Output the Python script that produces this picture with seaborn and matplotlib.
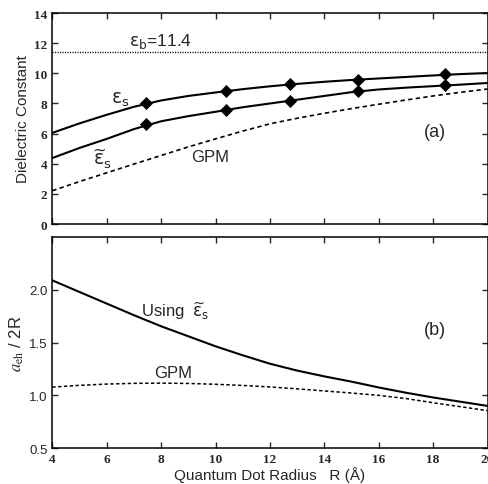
import numpy as np
import pandas as pd
import seaborn as sb
import matplotlib.pyplot as plt

# radius grid (Angstrom) used for the read-off curves
radius = [4, 5, 6, 7, 8, 9, 10, 11, 12, 13, 14, 15, 16, 17, 18, 19, 20]

# panel (a): dielectric constants
eps_s = [6.05, 6.68, 7.25, 7.78, 8.2, 8.5, 8.73, 8.95, 9.14, 9.3, 9.44, 9.56, 9.66, 9.76, 9.86, 9.95, 10.02]
eps_s_tilde = [4.38, 5.05, 5.65, 6.3, 6.82, 7.16, 7.45, 7.75, 8.0, 8.25, 8.5, 8.75, 8.93, 9.05, 9.15, 9.25, 9.36]
gpm_a = [2.21, 2.82, 3.4, 3.98, 4.55, 5.12, 5.65, 6.17, 6.65, 7.02, 7.35, 7.66, 7.95, 8.23, 8.5, 8.74, 8.96]
eps_b = 11.4

marker_r = [7.44, 10.37, 12.74, 15.23, 18.44]
marker_eps_s = [8.01, 8.80, 9.27, 9.58, 9.93]
marker_eps_s_tilde = [6.61, 7.56, 8.18, 8.80, 9.20]

# panel (b): a_eh / 2R
using_tilde = [2.09, 1.98, 1.87, 1.76, 1.655, 1.56, 1.465, 1.38, 1.30, 1.235, 1.18, 1.13, 1.075, 1.025, 0.98, 0.94, 0.90]
gpm_b = [1.078, 1.095, 1.107, 1.114, 1.116, 1.113, 1.105, 1.094, 1.08, 1.062, 1.042, 1.022, 1.0, 0.97, 0.93, 0.893, 0.855]

sb.set_style("ticks")
plt.rcParams["font.family"] = ["Liberation Sans", "DejaVu Sans"]
plt.rcParams["axes.linewidth"] = 1.1
# upright greek for the epsilon labels
plt.rcParams["mathtext.rm"] = "DejaVu Sans"
plt.rcParams["mathtext.it"] = "DejaVu Sans"
plt.rcParams["mathtext.bf"] = "DejaVu Sans:bold"

df_a = pd.DataFrame({"R": radius, "eps_s": eps_s, "eps_t": eps_s_tilde, "gpm": gpm_a})
df_m = pd.DataFrame({"R": marker_r, "eps_s": marker_eps_s, "eps_t": marker_eps_s_tilde})
df_b = pd.DataFrame({"R": radius, "using": using_tilde, "gpm": gpm_b})

fig = plt.figure(figsize=(4.89, 4.85), dpi=100)
ax1 = fig.add_axes([0.107, 0.536, 0.890, 0.435])
ax2 = fig.add_axes([0.107, 0.074, 0.890, 0.435])

eps_tilde_txt = r"\widetilde{\varepsilon}_\mathrm{s}"

# ---------------------------------------------------------------------------------------------
sb.lineplot(data=df_a, x="R", y="eps_s", ax=ax1, color="black", lw=1.5)
sb.lineplot(data=df_a, x="R", y="eps_t", ax=ax1, color="black", lw=1.5)
sb.lineplot(data=df_a, x="R", y="gpm", ax=ax1, color="black", lw=1.2,
            linestyle=(0, (2.6, 2.0)))
sb.scatterplot(data=df_m, x="R", y="eps_s", ax=ax1, marker="D", s=38, color="black",
               edgecolor="black", zorder=5)
sb.scatterplot(data=df_m, x="R", y="eps_t", ax=ax1, marker="D", s=38, color="black",
               edgecolor="black", zorder=5)
ax1.axhline(eps_b, color="black", lw=1.0, linestyle=(0, (0.8, 1.0)))

ax1.set_xlim(4, 20)
ax1.set_ylim(0, 14)
ax1.set_yticks([0, 2, 4, 6, 8, 10, 12, 14])
ax1.set_xticks(range(4, 21, 2))
ax1.set_xticklabels([])
ax1.set_xlabel("")
ax1.set_ylabel("Dielectric Constant", fontsize=11, labelpad=3)

ax1.text(7.97, 12.2, r"$\varepsilon_\mathrm{b}$=11.4", fontsize=12.5, ha="center", va="center",
         math_fontfamily="custom")
ax1.text(6.49, 8.3, r"$\varepsilon_\mathrm{s}$", fontsize=13.5, ha="center", va="center",
         math_fontfamily="custom")
ax1.text(5.82, 4.35, "$" + eps_tilde_txt + "$", fontsize=13.5, ha="center", va="center",
         math_fontfamily="custom")
ax1.text(9.8, 4.45, "GPM", fontsize=12, ha="center", va="center")
ax1.text(18.07, 6.17, "(a)", fontsize=13, ha="center", va="center")

# ---------------------------------------------------------------------------------------------
sb.lineplot(data=df_b, x="R", y="using", ax=ax2, color="black", lw=1.5)
sb.lineplot(data=df_b, x="R", y="gpm", ax=ax2, color="black", lw=1.1,
            linestyle=(0, (2.2, 1.6)))

ax2.set_xlim(4, 20)
ax2.set_ylim(0.5, 2.5)
ax2.set_yticks([0.5, 1.0, 1.5, 2.0])
ax2.set_yticklabels(["0.5", "1.0", "1.5", "2.0"])
ax2.set_xticks(range(4, 21, 2))
ax2.set_xlabel("Quantum Dot Radius   R (\u00c5)", fontsize=11, labelpad=1)
ax2.set_ylabel(r"$a_\mathrm{eh}$ / 2R", fontsize=12, labelpad=2, math_fontfamily="stix")

ax2.text(8.5, 1.81, "Using  $" + eps_tilde_txt + "$", fontsize=12, ha="center",
         va="center", math_fontfamily="custom")
ax2.text(8.45, 1.22, "GPM", fontsize=12, ha="center", va="center")
ax2.text(18.07, 1.62, "(b)", fontsize=13, ha="center", va="center")

for ax in (ax1, ax2):
    ax.tick_params(direction="in", top=True, right=True, length=4.5, width=1.0)
    for sp in ax.spines.values():
        sp.set_visible(True)
        sp.set_color("black")

for lab in ax1.get_yticklabels():
    lab.set_fontfamily("Liberation Serif")
    lab.set_fontweight("bold")
    lab.set_fontsize(9.5)
for lab in ax2.get_xticklabels():
    lab.set_fontfamily("Liberation Serif")
    lab.set_fontweight("bold")
    lab.set_fontsize(9.5)
for lab in ax2.get_yticklabels():
    lab.set_fontsize(9.5)

plt.savefig("out.png", dpi=100)
